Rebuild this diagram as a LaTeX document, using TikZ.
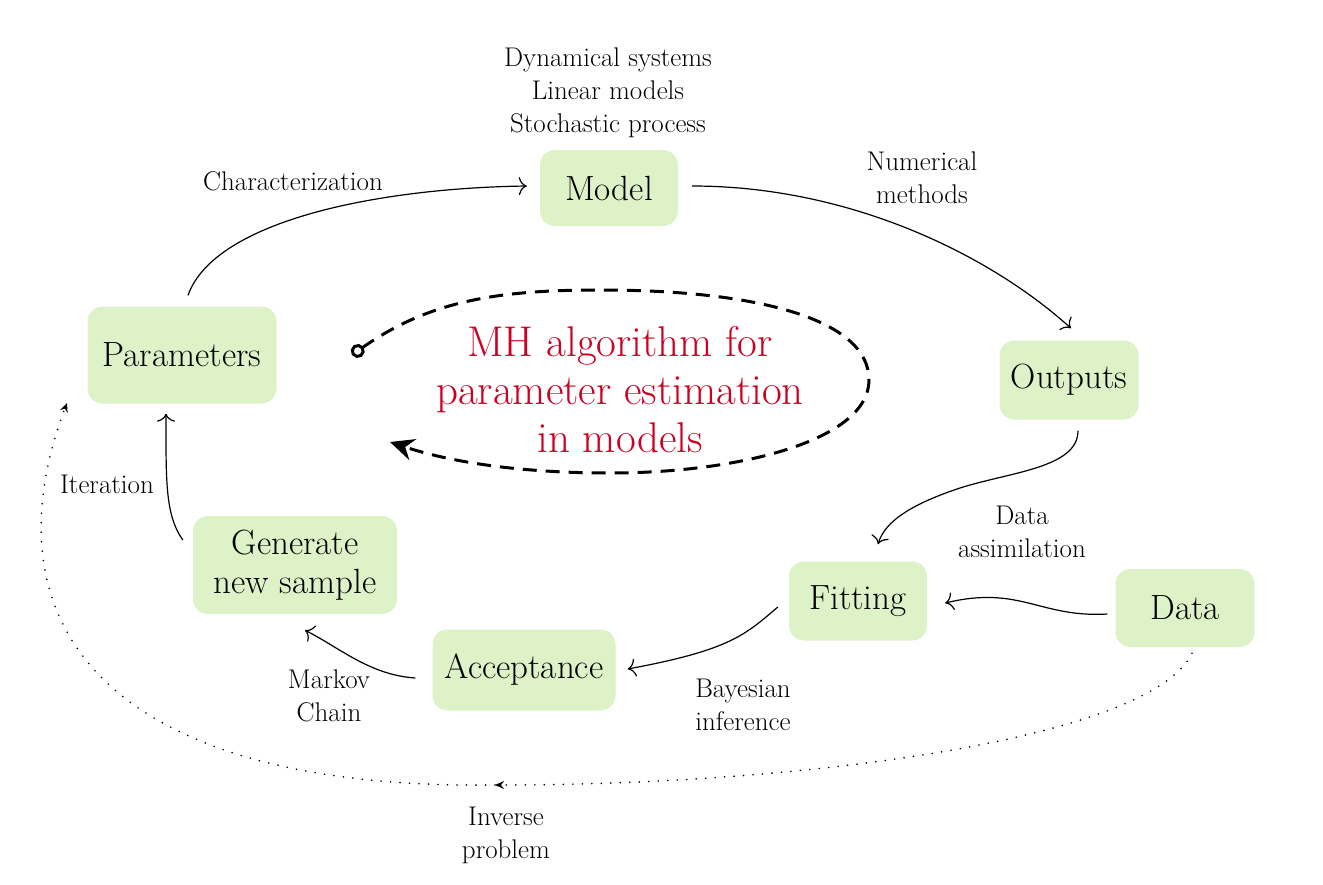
\documentclass[tikz,border=0pt]{standalone}
\usepackage{fontspec}
\usetikzlibrary{arrows.meta}
\definecolor{boxgreen}{RGB}{221,242,199}
\definecolor{mhred}{RGB}{204,0,34}
\tikzset{
  box/.style={fill=boxgreen, rounded corners=15pt, align=center, inner sep=0pt,
    font=\fontsize{35}{39}\selectfont},
  lbl/.style={align=center, inner sep=0pt, font=\fontsize{27}{33}\selectfont},
  conn/.style={line width=1.2pt, -{To[length=8pt,width=18pt]}},
  dotline/.style={line width=1.8pt, line cap=round, dash pattern=on 0pt off 9.5pt,
    -{Stealth[length=9pt,width=8pt,inset=3pt]}},
  cycleline/.style={line width=3pt, dash pattern=on 14pt off 9pt,
    {Circle[open,length=14pt,width=14pt,line width=3pt]}-{Stealth[length=24pt,width=22pt,inset=8pt]}}
}
\begin{document}
\begin{tikzpicture}[x=1pt,y=-1pt]
\useasboundingbox (0,0) rectangle (1323,884);

% boxes
\node[box, minimum width=138pt, minimum height=76pt] (model) at (609,188) {Model};
\node[box, minimum width=189pt, minimum height=97pt] (par) at (182,355) {Parameters};
\node[box, minimum width=139pt, minimum height=79pt] (out) at (1069,380) {Outputs};
\node[box, minimum width=138pt, minimum height=79pt] (fit) at (858,601) {Fitting};
\node[box, minimum width=139pt, minimum height=78pt] (data) at (1185,608) {Data};
\node[box, minimum width=183pt, minimum height=81pt] (acc) at (524,670) {Acceptance};
\node[box, minimum width=204pt, minimum height=98pt] (gen) at (295,565) {Generate\\new sample};

% labels
\node[lbl] (dyn) at (608,93) {Dynamical systems\\Linear models\\Stochastic process};
\node[lbl] (char) at (293,181) {Characterization};
\node[lbl] (num) at (922,178) {Numerical\\methods};
\node[lbl] (dass) at (1022,532) {Data\\assimilation};
\node[lbl] (bay) at (743,705) {Bayesian\\inference};
\node[lbl] (mc) at (329,696) {Markov\\Chain};
\node[lbl] (iter) at (107,484) {Iteration};
\node[lbl] (inv) at (506,835) {Inverse\\problem};
\node[align=center, inner sep=0pt, text=mhred, font=\fontsize{43}{48}\selectfont] (mh) at (620,390)
  {MH algorithm for\\parameter estimation\\in models};

% connectors
\draw[conn] ([shift={(6,-11)}]par.north) .. controls (215,220) and (380,188) .. ([shift={(-13,-2)}]model.west);
\draw[conn] ([shift={(14,-2)}]model.east) .. controls (850,186) and (990,255) .. ([shift={(2,-12)}]out.north);
\draw[conn] ([shift={(9,11)}]out.south) .. controls (1078,468) and (1010,472) .. (960,488)
  .. controls (915,503) and (885,520) .. ([shift={(20,-17)}]fit.north);
\draw[conn] ([shift={(-8,6)}]data.west) .. controls (1040,618) and (1020,585) .. ([shift={(18,2)}]fit.east);
\draw[conn] ([shift={(-11,6)}]fit.west) .. controls (745,635) and (730,650) .. ([shift={(12,-1)}]acc.east);
\draw[conn] ([shift={(-17,8)}]acc.west) .. controls (370,675) and (340,648) .. ([shift={(10,16)}]gen.south);
\draw[conn] ([shift={(-10,-25)}]gen.west) .. controls (165,515) and (166,480) .. ([shift={(-16,10)}]par.south);

% inverse problem dotted path
\coordinate (ip) at (495,785);
\coordinate (pe) at (67,403);
\draw[dotline] ([shift={(7,6)}]data.south) .. controls (1150,740) and (800,785) .. (ip);
\draw[dotline] (ip) .. controls (100,790) and (-15,620) .. (pe);

% MH cycle
\draw[cycleline] (352,355) .. controls (430,300) and (500,290) .. (600,290)
  .. controls (760,290) and (869,320) .. (869,380)
  .. controls (869,440) and (740,473) .. (610,473)
  .. controls (520,473) and (450,462) .. (390,442);
\end{tikzpicture}
\end{document}
